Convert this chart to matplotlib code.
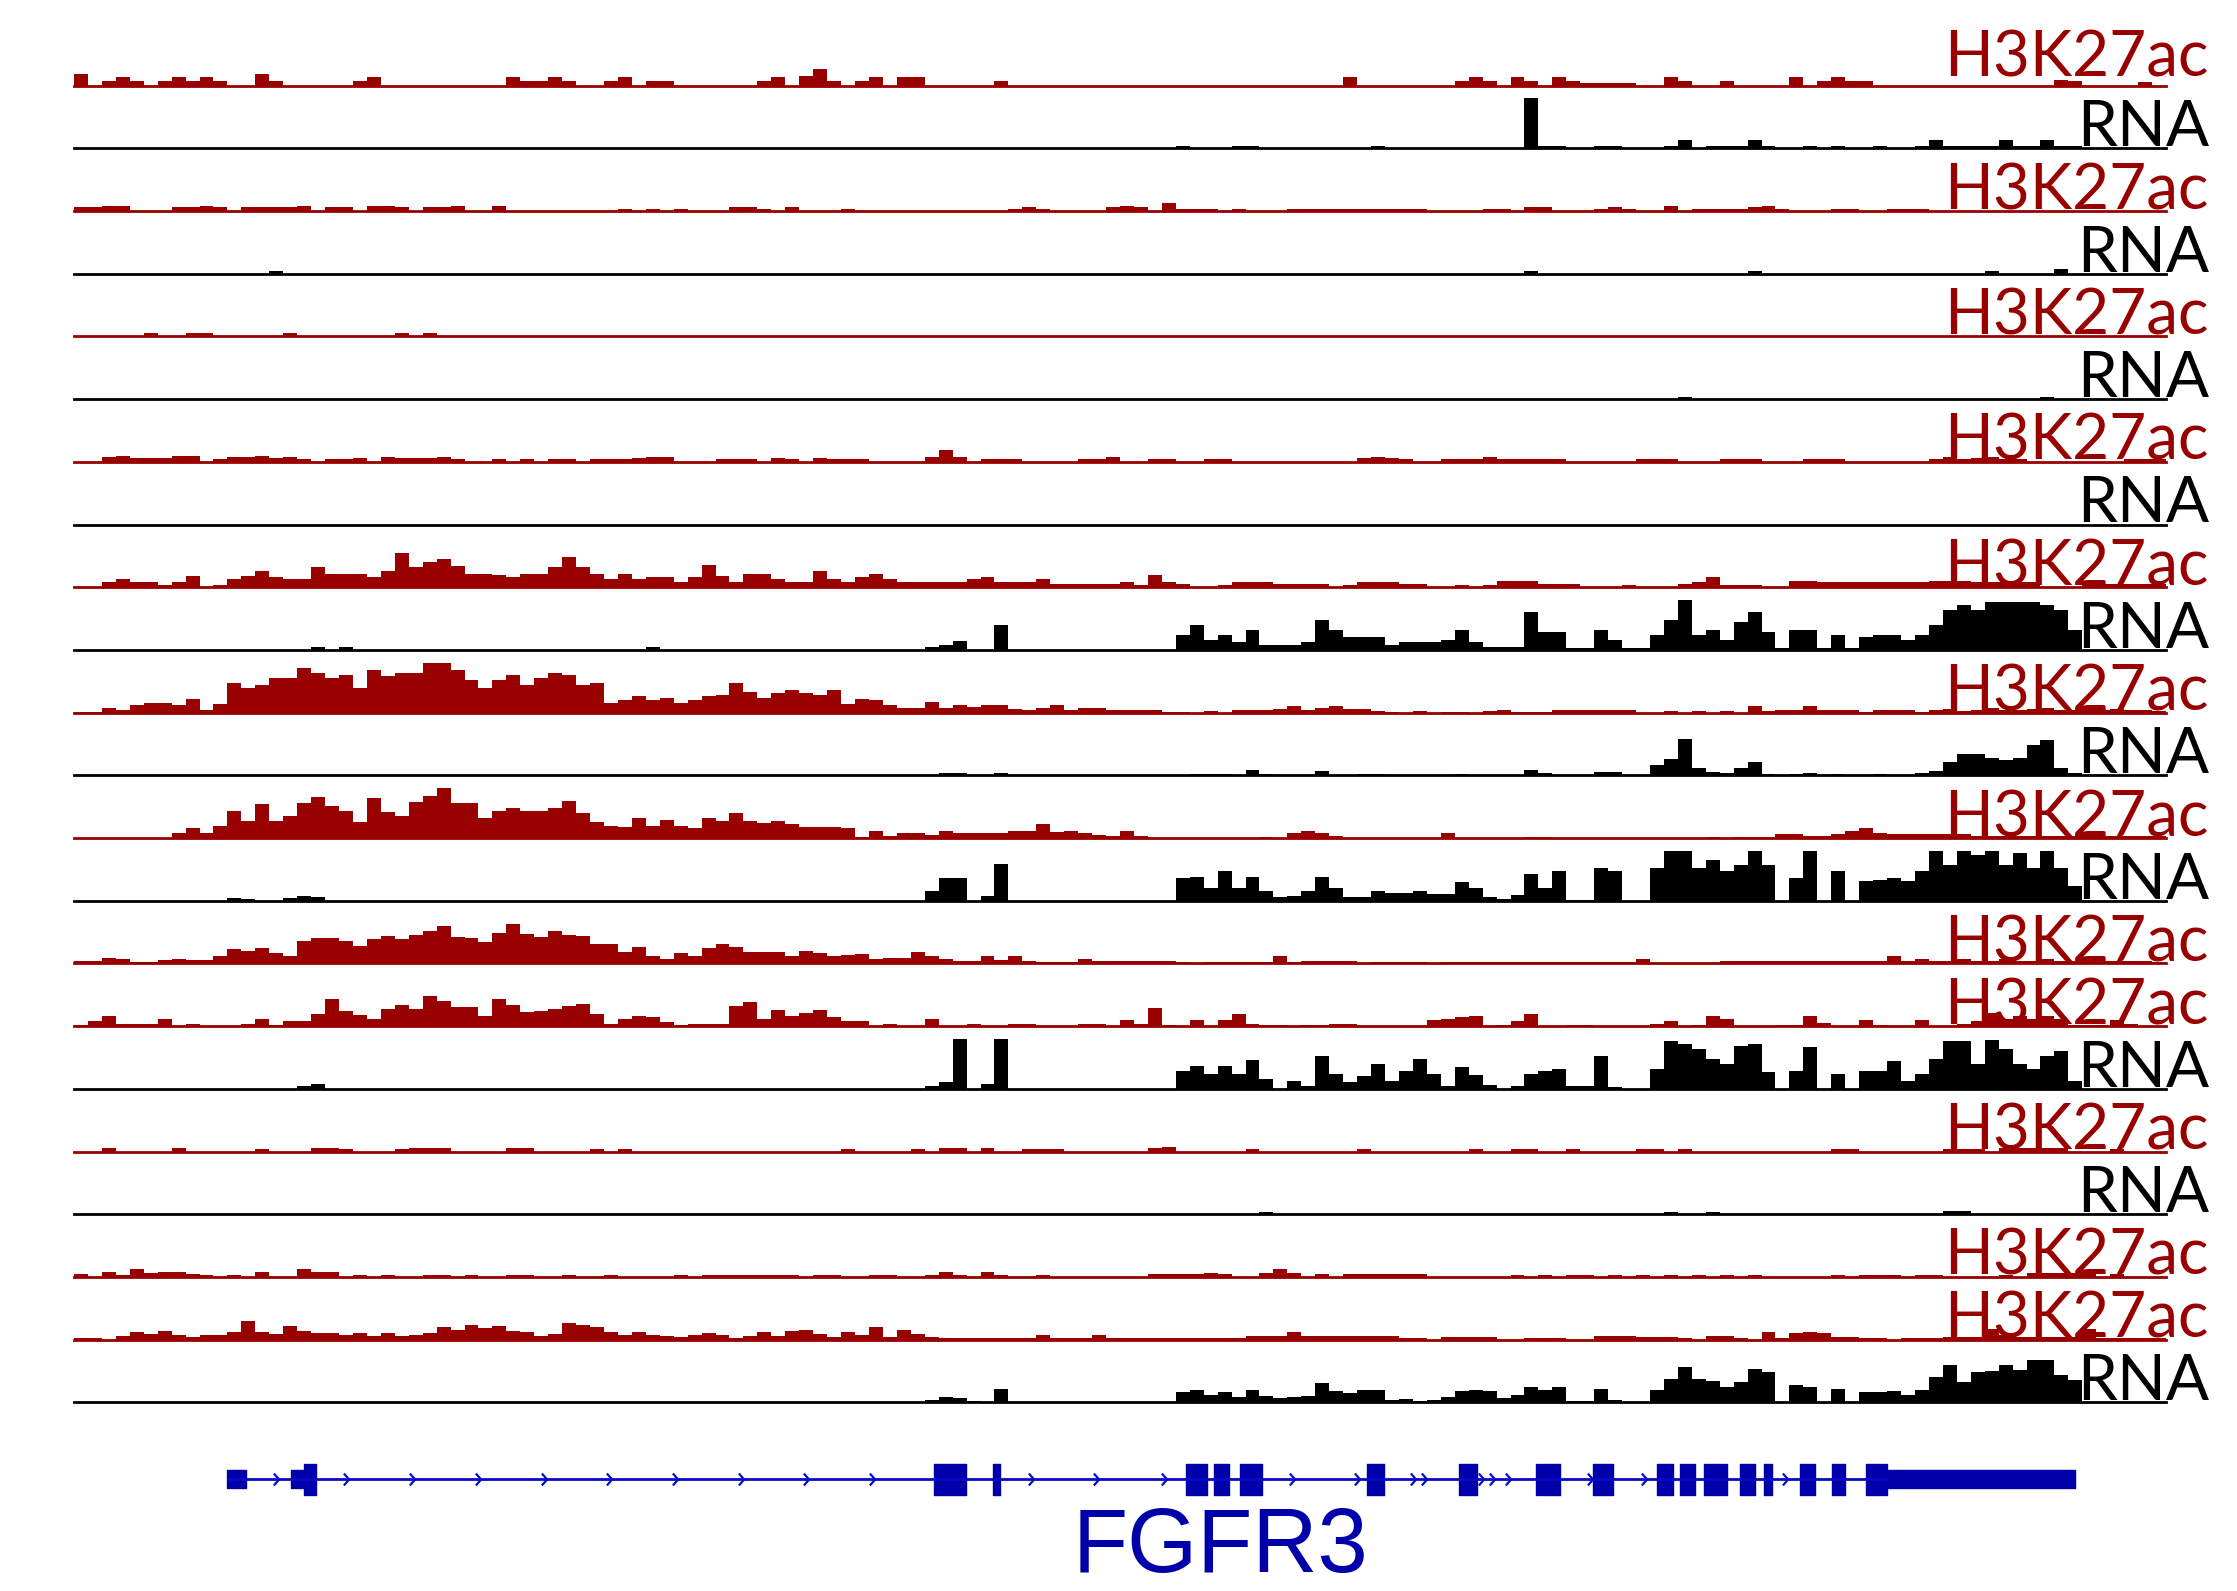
import numpy as np
import matplotlib
matplotlib.use("Agg")
import matplotlib.pyplot as plt
from matplotlib.path import Path

# signal heights per track, 150 bins across the locus, scale 0-10
h3_1 = [
    2.3, 0, 1, 1.7, 1, 0, 1, 1.7, 1, 1.7, 1, 0, 0, 2.3, 1, 0, 0, 0, 0, 0, 1, 1.7, 0, 0, 0,
    0, 0, 0, 0, 0, 0, 1.7, 1, 1, 1.7, 1, 0, 0, 1, 1.7, 0, 1, 1, 0, 0, 0, 0, 0, 0, 1,
    1.7, 0, 2, 3.4, 1, 0, 1, 1.7, 0, 1.7, 1.7, 0, 0, 0, 0, 0, 1, 0, 0, 0, 0, 0, 0, 0, 0,
    0, 0, 0, 0, 0, 0, 0, 0, 0, 0, 0, 0, 0, 0, 0, 0, 1.7, 0, 0, 0, 0, 0, 0, 0, 1,
    1.7, 1, 0, 1.7, 1, 0, 1.7, 1, 0.5, 0.5, 0.5, 0.5, 0, 0, 1.7, 1, 0, 0, 1, 0, 0, 0, 0, 1.7, 0,
    1, 1.7, 1, 1, 0, 0, 0, 0, 0, 0, 0, 0, 0, 0, 0, 0, 0, 1.2, 1, 0, 0, 0, 0, 0.7, 0,
]
rna_1 = [
    0, 0, 0, 0, 0, 0, 0, 0, 0, 0, 0, 0, 0, 0, 0, 0, 0, 0, 0, 0, 0, 0, 0, 0, 0,
    0, 0, 0, 0, 0, 0, 0, 0, 0, 0, 0, 0, 0, 0, 0, 0, 0, 0, 0, 0, 0, 0, 0, 0, 0,
    0, 0, 0, 0, 0, 0, 0, 0, 0, 0, 0, 0, 0, 0, 0, 0, 0, 0, 0, 0, 0, 0, 0, 0, 0,
    0, 0, 0, 0, 0.5, 0, 0, 0, 0.5, 0.5, 0, 0, 0, 0, 0, 0, 0, 0, 0.5, 0, 0, 0, 0, 0, 0,
    0, 0, 0, 0, 10, 0.5, 0.5, 0, 0, 0.5, 0.5, 0, 0, 0, 0.5, 1.7, 0, 0.5, 0.5, 0.5, 1.7, 0.5, 0, 0, 0.5,
    0, 0.5, 0, 0, 0.5, 0, 0, 0.5, 1.7, 0.5, 0.5, 0.5, 0.5, 1.7, 0.5, 0.5, 1.7, 0.5, 0.5, 0, 0, 0, 0, 0, 0,
]
h3_2 = [
    0.7, 0.7, 1, 1, 0, 0, 0, 0.7, 0.7, 1, 0.7, 0, 0.7, 0.7, 0.7, 0.7, 1, 0, 0.7, 0.7, 0, 1, 1, 0.7, 0,
    0.7, 0.7, 1, 0, 0, 1, 0, 0, 0, 0, 0, 0, 0, 0, 0.5, 0, 0.5, 0, 0.5, 0, 0, 0, 0.7, 0.7, 0.5,
    0, 0.7, 0, 0, 0, 0.5, 0, 0, 0, 0, 0, 0, 0, 0, 0, 0, 0, 0.5, 0.7, 0.5, 0, 0, 0, 0, 0.7,
    1, 0.7, 0, 1.5, 0.5, 0.5, 0.5, 0, 0.5, 0, 0, 0, 0.5, 0.5, 0.5, 0.5, 0.5, 0.5, 0.5, 0.5, 0.5, 0.5, 0, 0, 0,
    0, 0.5, 0.5, 0, 0.7, 0.7, 0, 0, 0, 0.5, 0.7, 0.5, 0, 0, 1, 0, 0.5, 0.5, 0.5, 0.5, 0.7, 1, 0.5, 0, 0,
    0, 0.5, 0.5, 0, 0, 0.5, 0.5, 0.5, 0, 0, 0, 0, 0, 0, 0, 0, 0, 0, 0, 0, 0, 0, 0, 0, 0,
]
rna_2 = [
    0, 0, 0, 0, 0, 0, 0, 0, 0, 0, 0, 0, 0, 0, 0.5, 0, 0, 0, 0, 0, 0, 0, 0, 0, 0,
    0, 0, 0, 0, 0, 0, 0, 0, 0, 0, 0, 0, 0, 0, 0, 0, 0, 0, 0, 0, 0, 0, 0, 0, 0,
    0, 0, 0, 0, 0, 0, 0, 0, 0, 0, 0, 0, 0, 0, 0, 0, 0, 0, 0, 0, 0, 0, 0, 0, 0,
    0, 0, 0, 0, 0, 0, 0, 0, 0, 0, 0, 0, 0, 0, 0, 0, 0, 0, 0, 0, 0, 0, 0, 0, 0,
    0, 0, 0, 0, 0.5, 0, 0, 0, 0, 0, 0, 0, 0, 0, 0, 0, 0, 0, 0, 0, 0.5, 0, 0, 0, 0,
    0, 0, 0, 0, 0, 0, 0, 0, 0, 0, 0, 0, 0.5, 0, 0, 0, 0, 1, 0, 0, 0, 0, 0, 0, 0,
]
h3_3 = [
    0, 0, 0, 0, 0, 0.7, 0, 0, 0.7, 0.7, 0, 0, 0, 0, 0, 0.7, 0, 0, 0, 0, 0, 0, 0, 0.7, 0,
    0.7, 0, 0, 0, 0, 0, 0, 0, 0, 0, 0, 0, 0, 0, 0, 0, 0, 0, 0, 0, 0, 0, 0, 0, 0,
    0, 0, 0, 0, 0, 0, 0, 0, 0, 0, 0, 0, 0, 0, 0, 0, 0, 0, 0, 0, 0, 0, 0, 0, 0,
    0, 0, 0, 0, 0, 0, 0, 0, 0, 0, 0, 0, 0, 0, 0, 0, 0, 0, 0, 0, 0, 0, 0, 0, 0,
    0, 0, 0, 0, 0, 0, 0, 0, 0, 0, 0, 0, 0, 0, 0, 0, 0, 0, 0, 0, 0, 0, 0, 0, 0,
    0, 0, 0, 0, 0, 0, 0, 0, 0, 0, 0, 0, 0, 0, 0, 0, 0, 0, 0, 0, 0, 0, 0, 0, 0,
]
rna_3 = [
    0, 0, 0, 0, 0, 0, 0, 0, 0, 0, 0, 0, 0, 0, 0, 0, 0, 0, 0, 0, 0, 0, 0, 0, 0,
    0, 0, 0, 0, 0, 0, 0, 0, 0, 0, 0, 0, 0, 0, 0, 0, 0, 0, 0, 0, 0, 0, 0, 0, 0,
    0, 0, 0, 0, 0, 0, 0, 0, 0, 0, 0, 0, 0, 0, 0, 0, 0, 0, 0, 0, 0, 0, 0, 0, 0,
    0, 0, 0, 0, 0, 0, 0, 0, 0, 0, 0, 0, 0, 0, 0, 0, 0, 0, 0, 0, 0, 0, 0, 0, 0,
    0, 0, 0, 0, 0, 0, 0, 0, 0, 0, 0, 0, 0, 0, 0, 0.5, 0, 0, 0, 0, 0, 0, 0, 0, 0,
    0, 0, 0, 0, 0, 0, 0, 0, 0, 0, 0, 0, 0, 0, 0, 0, 0.5, 0, 0, 0, 0, 0, 0, 0, 0,
]
h3_4 = [
    0, 0, 1, 1.1, 0.8, 0.8, 0.8, 1.2, 1.2, 0, 0.6, 1, 1, 1.1, 0.8, 1, 0.6, 0, 0.6, 0.6, 0.8, 0, 1, 0.7, 0.7,
    0.7, 1, 0.5, 0, 0, 0.6, 0, 0.6, 0, 0.6, 0.6, 0, 0.6, 0.6, 0.6, 0.7, 1, 1, 0, 0, 0, 0.6, 0.6, 0.6, 0,
    0.7, 0.5, 0, 0.8, 0.6, 0.6, 0.5, 0, 0, 0, 0, 1, 2.3, 1, 0, 0.6, 0.6, 0.5, 0, 0, 0, 0, 0.6, 0.6, 1,
    0, 0, 0.6, 0.6, 0, 0, 0.6, 0.5, 0, 0, 0, 0, 0, 0, 0, 0, 0, 0.8, 1, 0.8, 0.5, 0, 0, 0.6, 0.5,
    0.6, 1, 0.6, 0.6, 0.6, 0.5, 0.5, 0, 0, 0, 0, 0, 0.6, 0.6, 0.6, 0, 0, 0, 0.5, 0.5, 0.5, 0, 0, 0, 0.6,
    0.6, 0.5, 0, 0, 0, 0, 0, 0, 0.6, 1, 0.6, 0.8, 1, 0.6, 0.6, 0, 0, 0, 0, 0, 0, 0, 0.5, 0.5, 0.5,
]
rna_4 = [
    0, 0, 0, 0, 0, 0, 0, 0, 0, 0, 0, 0, 0, 0, 0, 0, 0, 0, 0, 0, 0, 0, 0, 0, 0,
    0, 0, 0, 0, 0, 0, 0, 0, 0, 0, 0, 0, 0, 0, 0, 0, 0, 0, 0, 0, 0, 0, 0, 0, 0,
    0, 0, 0, 0, 0, 0, 0, 0, 0, 0, 0, 0, 0, 0, 0, 0, 0, 0, 0, 0, 0, 0, 0, 0, 0,
    0, 0, 0, 0, 0, 0, 0, 0, 0, 0, 0, 0, 0, 0, 0, 0, 0, 0, 0, 0, 0, 0, 0, 0, 0,
    0, 0, 0, 0, 0, 0, 0, 0, 0, 0, 0, 0, 0, 0, 0, 0, 0, 0, 0, 0, 0, 0, 0, 0, 0,
    0, 0, 0, 0, 0, 0, 0, 0, 0, 0, 0, 0, 0, 0, 0, 0, 0, 0, 0, 0, 0, 0, 0, 0, 0,
]
h3_5 = [
    0, 0, 1, 1.7, 1, 1, 0.5, 1, 2.3, 0, 0.5, 1.7, 2.3, 3.3, 2, 1.7, 1.7, 4, 2.7, 2.7, 2.7, 2.1, 3.3, 6.8, 4,
    5, 5.7, 4.3, 2.7, 2.7, 2.5, 2.1, 2.7, 2.7, 4, 6.1, 4, 2.7, 1.7, 2.7, 1.7, 2.1, 2.1, 1, 2, 4.5, 2.2, 1, 2.7, 2.7,
    1.7, 1, 1, 3.3, 1.7, 1, 2.1, 2.7, 1.7, 1, 1, 1, 1, 1, 1.7, 2.1, 1, 1, 1, 1.7, 0.7, 0.7, 0.7, 0.7, 0.7,
    1, 0.5, 2.5, 1, 0.7, 0, 0, 0.5, 1, 1, 1, 0.7, 0.7, 0.7, 0.7, 0, 0.5, 1, 1, 1, 0.7, 0.7, 0, 0, 0.5,
    0, 0.5, 1.3, 1.3, 1.3, 0.7, 0.7, 0.7, 0, 0, 0, 0.5, 0, 0, 0, 0.7, 1, 2, 0.5, 0.5, 0.5, 0, 0, 1.3, 1.3,
    1, 1, 1, 1, 1, 1, 1, 1, 1.3, 1.3, 1.3, 1, 1, 1, 1, 1, 0, 0, 0, 0.7, 0.7, 0.7, 0.7, 0.7, 0.7,
]
rna_5 = [
    0, 0, 0, 0, 0, 0, 0, 0, 0, 0, 0, 0, 0, 0, 0, 0, 0, 0.5, 0, 0.5, 0, 0, 0, 0, 0,
    0, 0, 0, 0, 0, 0, 0, 0, 0, 0, 0, 0, 0, 0, 0, 0, 0.5, 0, 0, 0, 0, 0, 0, 0, 0,
    0, 0, 0, 0, 0, 0, 0, 0, 0, 0, 0, 0.5, 1, 1.7, 0, 0, 5, 0, 0, 0, 0, 0, 0, 0, 0,
    0, 0, 0, 0, 3, 5, 2, 3, 1.5, 4, 1, 1, 1, 1.5, 6, 4, 2.5, 2.5, 2.5, 1, 1.5, 1.5, 1.5, 2, 4,
    1.5, 0.5, 0.5, 0.5, 7.5, 3.5, 3.5, 0.3, 0.3, 4, 2, 0.3, 0.3, 3, 6, 10, 3, 4, 2, 5.5, 7.5, 3.5, 0.3, 4, 4,
    0.3, 3, 0.3, 2.5, 3, 3, 2, 3, 5, 8, 9, 8, 9.5, 9.5, 9.5, 9.5, 9, 8, 4, 0, 0, 0, 0, 0, 0,
]
h3_6 = [
    0.2, 0.2, 1, 0.5, 1.5, 2, 2, 1.5, 2.7, 0.5, 1.7, 6, 5, 5.5, 7, 7, 9, 8, 7, 7.5, 5, 8.5, 7.3, 8, 8,
    10, 10, 8.5, 6.5, 5, 6.5, 7.5, 5.5, 7, 8, 7.5, 5.5, 6, 2, 2.5, 3.4, 2.5, 3, 2, 2.5, 3.3, 3.5, 6, 4.2, 3,
    3.9, 4.5, 4, 3.5, 4.5, 1.7, 2.8, 2.5, 1.5, 1, 1, 2.2, 1, 1.5, 1.2, 1.5, 1.5, 0.7, 0.5, 1, 1.5, 0.5, 1, 1, 0.5,
    0.6, 0.6, 0.6, 0.2, 0.2, 0, 0.3, 0, 0.5, 0.6, 0.6, 0.8, 1.3, 0.6, 1, 1.3, 0.8, 0.8, 0.3, 0.2, 0, 0.3, 0, 0.2, 0.2,
    0, 0.3, 0.5, 0.2, 0.2, 0.2, 0.5, 0.5, 0.5, 0.5, 0.5, 0.5, 0, 0, 0.3, 0, 0.3, 0, 0.3, 0, 1.3, 0.3, 0.6, 0.6, 1.3,
    0.6, 0.5, 0.5, 0.2, 0.6, 0.6, 0.5, 0.2, 0.5, 0.8, 0.3, 0.5, 1, 0.5, 0.6, 0.8, 1, 0.5, 0.6, 0.5, 0.5, 0.8, 0.5, 0.5, 0.3,
]
rna_6 = [
    0, 0, 0, 0, 0, 0, 0, 0, 0, 0, 0, 0, 0, 0, 0, 0, 0, 0, 0, 0, 0, 0, 0, 0, 0,
    0, 0, 0, 0, 0, 0, 0, 0, 0, 0, 0, 0, 0, 0, 0, 0, 0, 0, 0, 0, 0, 0, 0, 0, 0,
    0, 0, 0, 0, 0, 0, 0, 0, 0, 0, 0, 0, 0.5, 0.5, 0, 0, 0.5, 0, 0, 0, 0, 0, 0, 0, 0,
    0, 0, 0, 0, 0, 0.3, 0.3, 0.3, 0, 1, 0.3, 0, 0, 0, 0.8, 0, 0, 0.3, 0.3, 0, 0, 0, 0, 0, 0.3,
    0, 0, 0, 0, 1, 0.5, 0, 0, 0, 0.6, 0.6, 0, 0, 2, 3.3, 7.3, 1.5, 0.7, 0.5, 1.5, 2.7, 0.3, 0, 0.3, 0.5,
    0, 0.3, 0, 0, 0.3, 0, 0, 0.5, 0.8, 2.6, 4.3, 4.3, 3.5, 3, 3.5, 6, 7, 1.5, 0.5, 0, 0, 0, 0, 0, 0,
]
h3_7 = [
    0, 0, 0, 0, 0, 0, 0, 1, 2, 1, 2.5, 5.5, 3.5, 6.8, 3.5, 4.5, 7, 8.3, 6.5, 5.5, 3.3, 8, 5.3, 4.5, 7.3,
    8.5, 10, 7, 7, 4, 5.5, 6, 5.5, 5.5, 6, 7.5, 5.1, 3.3, 2.5, 2.3, 4, 2.5, 3.7, 2.5, 2, 4, 3.5, 5, 3.5, 3,
    3.5, 2.8, 2.3, 2.3, 2.3, 2, 0.3, 1.5, 0.5, 1, 1.1, 0.6, 1.5, 1, 1.1, 1.1, 1.1, 1.5, 1.5, 2.8, 1.3, 1.5, 1, 0.7, 0.5,
    1.5, 0.5, 0, 0, 0, 0, 0, 0, 0, 0, 0.3, 0, 1, 1.5, 1, 0.5, 0, 0, 0, 0, 0, 0, 0, 1, 0,
    0, 0, 0, 0, 0.3, 0.3, 0, 0, 0, 0, 0, 0, 0, 0, 0, 0, 0, 0.3, 0, 0.3, 0.3, 0.3, 0.8, 0.8, 0.5,
    0.5, 0.8, 1.5, 2, 1, 0.8, 0.8, 0.8, 0.8, 0.8, 0.8, 0.5, 0.5, 0.5, 0.5, 0.5, 0.5, 0.5, 0.5, 0.5, 0.5, 0.5, 0.5, 0.5, 0.5,
]
rna_7 = [
    0, 0, 0, 0, 0, 0, 0, 0, 0, 0, 0, 0.5, 0.3, 0, 0, 0.5, 1, 0.7, 0, 0, 0, 0, 0, 0, 0,
    0, 0, 0, 0, 0, 0, 0, 0, 0, 0, 0, 0, 0, 0, 0, 0, 0, 0, 0, 0, 0, 0, 0, 0, 0,
    0, 0, 0, 0, 0, 0, 0, 0, 0, 0, 0, 2, 4.5, 4.5, 0, 1, 7.3, 0, 0, 0, 0, 0, 0, 0, 0,
    0, 0, 0, 0, 4.5, 4.7, 2.5, 5.9, 2.5, 4.7, 1.9, 0.8, 1, 2, 4.7, 2.5, 0.7, 0.8, 2, 1.5, 1.5, 2, 1.3, 1.3, 3.7,
    2.5, 0.7, 0.4, 1.2, 5.3, 2.5, 5.9, 0.2, 0.2, 6.5, 5.9, 0, 0, 6.5, 9.9, 9.9, 6.5, 8.2, 5.9, 7.2, 9.9, 7.2, 0, 4.5, 9.9,
    0, 5.9, 0, 3.9, 4.2, 4.5, 3.9, 5.9, 9.9, 7.2, 9.9, 9.2, 9.9, 7.2, 9.5, 6.5, 9.9, 6.5, 3, 0, 0, 0, 0, 0, 0,
]
h3_8 = [
    0.5, 0.5, 1, 0.8, 0.3, 0.3, 0.6, 0.8, 0.7, 0.6, 1.5, 2.8, 2.5, 3, 2, 1.5, 4.5, 5, 5, 4.5, 3.5, 4.8, 5.5, 4.8, 5.7,
    6.5, 7.5, 5.2, 5, 4.3, 6, 7.9, 5.8, 5.2, 6.5, 5.7, 5.5, 3.8, 3.8, 2.3, 3.3, 1.5, 0.8, 2, 1.5, 3, 3.8, 3.3, 2.3, 2.2,
    2.3, 1.5, 2.5, 2, 1.5, 1.6, 1.8, 0.8, 1, 1, 2.2, 1.5, 0.8, 0.5, 0.5, 1.4, 0.6, 1.5, 0.4, 0.3, 0.3, 0.3, 0.8, 0.5, 0.5,
    0.5, 0.5, 0.5, 0.5, 0.3, 0, 0.3, 0.3, 0.3, 0.3, 0.3, 1.5, 0.3, 0.5, 0.5, 0.5, 0.5, 0, 0.3, 0.3, 0.3, 0.3, 0, 0.3, 0.3,
    0.3, 0.3, 0.3, 0.3, 0.3, 0.3, 0.3, 0.3, 0.3, 0.3, 0.3, 0.3, 0.8, 0, 0, 0, 0, 0, 0.5, 0.5, 0.5, 0.5, 0.5, 0.5, 0.5,
    0.5, 0.5, 0.5, 0.5, 0.5, 1.5, 0.5, 0.8, 0.5, 0.5, 0.8, 0.5, 0.5, 0.8, 0.5, 0.5, 0.8, 0.5, 0.5, 0.8, 0.5, 0.5, 0.5, 0.5, 0.3,
]
h3_9 = [
    0.2, 1, 2, 0.4, 0.5, 0.5, 1.5, 0, 0.5, 0, 0, 0, 0.4, 1.5, 0.2, 1, 1, 2.5, 5.5, 3, 2.2, 1.5, 3.5, 4.2, 3.5,
    6, 5, 3.8, 3.9, 2, 5.5, 4.3, 2.8, 3, 3.5, 4, 4.5, 2.5, 0.5, 1.4, 2, 1.8, 0.8, 0.3, 0.4, 0.4, 0.4, 4, 4.9, 1.5,
    3.2, 2, 2.7, 3.3, 1.9, 1, 1, 0, 0.4, 0, 0, 1.5, 0, 0, 0.4, 0, 0, 0.4, 0.4, 0, 0, 0, 0.5, 0.5, 0,
    1.3, 0.5, 3.7, 0.3, 0, 1.3, 0, 1.3, 2.5, 0.5, 0.3, 0.3, 0, 0.3, 0.3, 0.5, 0.5, 0, 0, 0, 0, 0, 1.3, 1.5, 1.8,
    2, 0, 0.3, 1, 2.5, 0, 0, 0.3, 0.3, 0, 0, 0, 0, 0.5, 1, 0, 0.3, 2, 1.5, 0, 0, 0, 0.3, 0.3, 2,
    0.6, 0, 0, 1.3, 0.3, 0, 0, 1.3, 0, 0, 0.5, 1, 2.7, 1.5, 2, 1.5, 2, 1.5, 0.3, 0.3, 0.3, 1.3, 0.5, 0, 0,
]
rna_8 = [
    0, 0, 0, 0, 0, 0, 0, 0, 0, 0, 0, 0, 0, 0, 0, 0, 0.5, 0.9, 0, 0, 0, 0, 0, 0, 0,
    0, 0, 0, 0, 0, 0, 0, 0, 0, 0, 0, 0, 0, 0, 0, 0, 0, 0, 0, 0, 0, 0, 0, 0, 0,
    0, 0, 0, 0, 0, 0, 0, 0, 0, 0, 0, 0.5, 1.3, 10, 0, 1, 10, 0, 0, 0, 0, 0, 0, 0, 0,
    0, 0, 0, 0, 3.5, 4.5, 3, 4.5, 3, 5.7, 2, 0, 1.5, 0.5, 6.5, 3, 1.3, 2.5, 5, 1.5, 3.5, 6, 3, 0.5, 4.3,
    2.7, 0.7, 0, 0.5, 3, 3.5, 4, 0.5, 0.5, 6.5, 0.3, 0, 0, 4, 9.5, 9, 8, 6, 5, 8.5, 9, 3.3, 0, 3.5, 8.3,
    0, 3, 0, 3.5, 3.5, 5.5, 1.5, 3, 6, 9.5, 9.5, 5, 9.7, 8, 5, 4, 6.5, 7.5, 1.5, 0, 0, 0, 0, 0, 0,
]
h3_10 = [
    0, 0, 0.7, 0, 0, 0, 0, 0.7, 0, 0, 0, 0, 0, 0.5, 0, 0, 0, 0.7, 0.7, 0.5, 0, 0, 0, 0.5, 0.7,
    0.7, 0.7, 0, 0, 0, 0, 0.7, 0.7, 0, 0, 0, 0, 0.5, 0, 0.5, 0, 0, 0, 0, 0, 0, 0, 0, 0, 0,
    0, 0, 0, 0, 0, 0.5, 0, 0, 0, 0, 0.5, 0, 0.7, 0.7, 0, 0.7, 0, 0, 0.6, 0.6, 0.6, 0, 0, 0, 0,
    0, 0, 0.7, 1, 0, 0, 0, 0, 0, 0.5, 0, 0, 0, 0, 0, 0, 0, 0.5, 0, 0, 0, 0, 0, 0, 0,
    0.5, 0, 0, 0.6, 0.6, 0, 0, 0.5, 0, 0, 0, 0, 0.6, 0.6, 0, 0.5, 0, 0, 0, 0, 0, 0, 0, 0, 0,
    0, 0.5, 0.5, 0, 0, 0, 0, 0, 0, 0.6, 0.6, 0.6, 0, 0.7, 0.7, 0.7, 0.7, 0.7, 0, 0, 0, 0.5, 0, 0, 0,
]
rna_9 = [
    0, 0, 0, 0, 0, 0, 0, 0, 0, 0, 0, 0, 0, 0, 0, 0, 0, 0, 0, 0, 0, 0, 0, 0, 0,
    0, 0, 0, 0, 0, 0, 0, 0, 0, 0, 0, 0, 0, 0, 0, 0, 0, 0, 0, 0, 0, 0, 0, 0, 0,
    0, 0, 0, 0, 0, 0, 0, 0, 0, 0, 0, 0, 0, 0, 0, 0, 0, 0, 0, 0, 0, 0, 0, 0, 0,
    0, 0, 0, 0, 0, 0, 0, 0, 0, 0, 0.5, 0, 0, 0, 0, 0, 0, 0, 0, 0, 0, 0, 0, 0, 0,
    0, 0, 0, 0, 0, 0, 0, 0, 0, 0, 0, 0, 0, 0, 0.5, 0, 0, 0.5, 0, 0, 0, 0, 0, 0, 0,
    0, 0, 0, 0, 0, 0, 0, 0, 0, 0.6, 0.6, 0, 0, 0, 0, 0, 0, 0, 0, 0, 0, 0, 0, 0, 0,
]
h3_11 = [
    0.5, 0, 1, 0.3, 1.6, 0.8, 1, 0.9, 0.5, 0.3, 0, 0.3, 0, 1, 0, 0, 1.6, 0.9, 0.9, 0, 0.3, 0, 0.3, 0, 0,
    0.3, 0.3, 0, 0.3, 0, 0, 0.3, 0.3, 0, 0, 0.3, 0, 0, 0.3, 0, 0, 0, 0, 0.3, 0, 0.3, 0.3, 0.3, 0.3, 0.3,
    0.3, 0.3, 0, 0.3, 0.3, 0, 0, 0.3, 0.3, 0, 0, 0.3, 1, 0.3, 0, 0.9, 0.3, 0, 0, 0.3, 0, 0, 0, 0, 0,
    0, 0, 0.5, 0.5, 0.5, 0.5, 0.7, 0.5, 0, 0, 0.7, 1.5, 0.7, 0, 0.5, 0, 0.5, 0.5, 0.5, 0.5, 0.5, 0.5, 0, 0, 0,
    0, 0, 0, 0.3, 0, 0.3, 0, 0.3, 0.3, 0, 0.3, 0, 0.3, 0, 0.3, 0, 0.3, 0, 0.3, 0, 0.3, 0, 0, 0, 0,
    0, 0.3, 0, 0.3, 0.3, 0.3, 0, 0.3, 0.3, 0, 0, 0, 0, 0.3, 0, 0.7, 0.7, 0.7, 0.7, 0.7, 0, 0.5, 0, 0, 0,
]
h3_12 = [
    0.3, 0.3, 0, 0.8, 1.5, 1.2, 1.8, 1, 0.6, 1, 1, 1.5, 3.7, 1.5, 1.2, 2.7, 1.7, 1.4, 1.4, 0.9, 1.4, 0.8, 1.3, 0.8, 1,
    1.3, 2.5, 2, 3, 2.3, 2.7, 1.8, 1.5, 0.8, 1.2, 3.4, 3, 2.5, 1.5, 1, 1.5, 1, 0.7, 0.5, 1, 1.3, 1, 0.3, 0.8, 1.5,
    0.7, 1.8, 1.9, 1.2, 0.5, 1.5, 1, 2.5, 0.5, 2, 1.2, 0.6, 0.3, 0.3, 0.3, 0.3, 0.3, 0.3, 0.3, 1, 0.3, 0.3, 0.3, 1, 0.3,
    0.3, 0.3, 0.3, 0.3, 0.3, 0.3, 0.3, 0.3, 0.3, 0.8, 0.8, 0.8, 1.5, 0.8, 0.8, 0.8, 0.8, 0.8, 0.8, 0.8, 0.3, 0.3, 0, 0.6, 0.6,
    0.6, 0.6, 0, 0, 0.3, 0.3, 0.3, 0, 0, 0.8, 0.8, 0.8, 0.6, 0.6, 0.6, 0.3, 0, 0.8, 0.8, 0.3, 0, 1.5, 0.3, 1.3, 1.5,
    1.3, 0.6, 0.6, 0.3, 0.3, 0, 0.3, 0.3, 0.3, 0.5, 0.5, 0.5, 2.1, 1, 0.5, 0.5, 0.5, 0.5, 0.5, 2.1, 0.3, 0.3, 0.3, 0.3, 0.3,
]
rna_10 = [
    0, 0, 0, 0, 0, 0, 0, 0, 0, 0, 0, 0, 0, 0, 0, 0, 0, 0, 0, 0, 0, 0, 0, 0, 0,
    0, 0, 0, 0, 0, 0, 0, 0, 0, 0, 0, 0, 0, 0, 0, 0, 0, 0, 0, 0, 0, 0, 0, 0, 0,
    0, 0, 0, 0, 0, 0, 0, 0, 0, 0, 0, 0.5, 1.1, 0.8, 0.2, 0, 2.7, 0, 0, 0, 0, 0, 0, 0, 0,
    0, 0, 0, 0, 2, 2.5, 1.5, 2, 1, 2.5, 1.3, 0.8, 1, 1.3, 3.8, 2.3, 1.8, 2.5, 2.5, 0.5, 0.7, 0.2, 0.4, 1, 2.3,
    2.5, 2.3, 0.9, 1.5, 3.1, 2.5, 3.1, 0.2, 0.2, 2.7, 0.5, 0, 0, 2.5, 4.7, 7, 4.7, 4.3, 3, 4, 6.7, 6, 0, 3.5, 3.1,
    0, 2.7, 0, 2, 2, 2.3, 1.5, 2.5, 5, 7.5, 4, 6, 6.3, 7.5, 6.5, 8.5, 8.5, 5.5, 4.5, 0, 0, 0, 0, 0, 0,
]

track_names = ["H3K27ac", "RNA", "H3K27ac", "RNA", "H3K27ac", "RNA", "H3K27ac", "RNA",
               "H3K27ac", "RNA", "H3K27ac", "RNA", "H3K27ac", "RNA", "H3K27ac", "H3K27ac",
               "RNA", "H3K27ac", "RNA", "H3K27ac", "H3K27ac", "RNA"]
track_values = [h3_1, rna_1, h3_2, rna_2, h3_3, rna_3, h3_4, rna_4, h3_5, rna_5, h3_6,
                rna_6, h3_7, rna_7, h3_8, h3_9, rna_8, h3_10, rna_9, h3_11, h3_12, rna_10]

# FGFR3 gene model, same 0-150 locus units
gene_name = "FGFR3"
utr_starts = [10.97, 15.56, 129.96]
utr_ends = [12.33, 16.49, 143.44]
cds_starts = [16.49, 61.65, 65.88, 79.71, 81.72, 83.58, 92.69, 99.28, 104.80, 108.89,
              113.48, 115.13, 116.85, 119.43, 121.15, 123.73, 126.02, 128.46]
cds_ends = [17.35, 63.94, 66.38, 81.22, 82.80, 85.16, 93.91, 100.57, 106.52, 110.32,
            114.62, 116.20, 118.49, 120.50, 121.72, 124.80, 126.95, 129.96]
strand_marks = [14.48, 19.50, 24.23, 28.96, 33.69, 38.35, 43.08, 47.81, 52.47, 57.20,
                68.60, 73.26, 78.14, 87.31, 91.97, 95.99, 96.77, 100.86, 101.65, 102.80,
                108.67, 112.54, 122.65]

RED = "#990000"
BLUE = "#0000aa"
LINE_BLUE = "#0a0ac8"
W, H = 2237, 1591
DPI = 100

fig = plt.figure(figsize=(W / DPI, H / DPI), dpi=DPI)

left, right = 74, 2166      # track area in pixels
first_base, step, track_h = 85.6, 62.7, 50

for i, (name, vals) in enumerate(zip(track_names, track_values)):
    base = first_base + step * i
    ax = fig.add_axes([left / W, 1 - base / H, (right - left) / W, track_h / H])
    col = RED if name == "H3K27ac" else "black"
    ax.stairs(vals, np.arange(len(vals) + 1), fill=True, color=col, lw=0)
    ax.axhline(0, color=col, lw=2, clip_on=False)
    ax.set_xlim(0, 150)
    ax.set_ylim(0, 10)
    ax.axis("off")
    lift = 9 if i == 0 else 2
    fig.text(2209 / W, 1 - (base - lift) / H, name, ha="right", va="baseline",
             fontsize=46, color=col, family=["Lato", "DejaVu Sans"])

# gene track
gax = fig.add_axes([left / W, 1 - 1499 / H, (right - left) / W, 40 / H])
gax.set_xlim(0, 150)
gax.set_ylim(-20, 20)
gax.axis("off")
gax.hlines(0, utr_starts[0], cds_ends[-1], color=LINE_BLUE, lw=2)
gax.broken_barh([(s, e - s) for s, e in zip(utr_starts, utr_ends)], (-9, 18), color=BLUE)
gax.broken_barh([(s, e - s) for s, e in zip(cds_starts, cds_ends)], (-15.5, 31), color=BLUE)
chevron = Path([(-0.22, 0.5), (0.22, 0), (-0.22, -0.5)],
               [Path.MOVETO, Path.LINETO, Path.LINETO])
gax.plot(strand_marks, np.zeros(len(strand_marks)), ls="none", marker=chevron,
         ms=8.6, mfc="none", mec=LINE_BLUE, mew=1.6)

fig.text(1220 / W, 1 - 1572 / H, gene_name, ha="center", va="baseline",
         fontsize=65, color=BLUE, family=["Liberation Sans", "DejaVu Sans"])

fig.savefig("out.png", dpi=DPI)
